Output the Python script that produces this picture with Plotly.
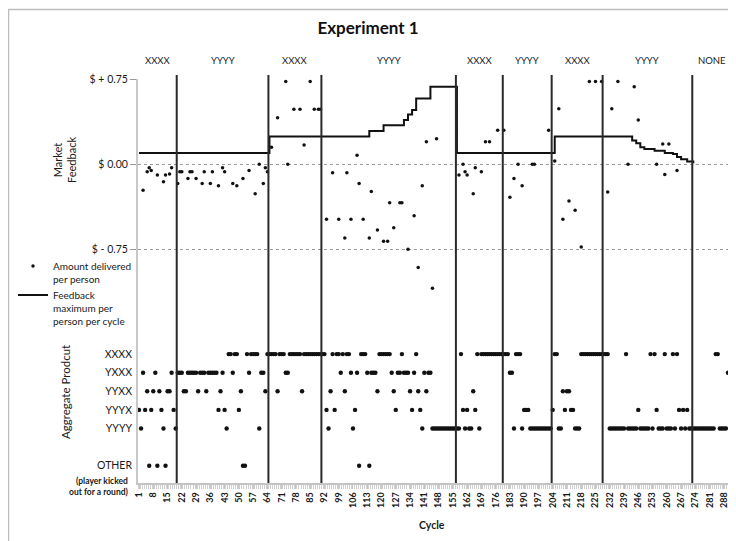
import plotly.graph_objects as go

# ---------------- data ----------------
phase_names = ["XXXX", "YYYY", "XXXX", "YYYY", "XXXX", "YYYY", "XXXX", "YYYY", "NONE"]
phase_starts = [1, 20, 65, 91, 157, 180, 204, 229, 273]
last_cycle = 291

x_tick_labels = [1, 8, 15, 22, 29, 36, 43, 50, 57, 64, 71, 78, 85, 92, 99, 106, 113, 120,
                 127, 134, 141, 148, 155, 162, 169, 176, 183, 190, 197, 204, 211, 218, 225,
                 232, 239, 246, 253, 260, 267, 274, 281, 288]

feedback_labels = ["$ + 0.75", "$ 0.00", "$ - 0.75"]
feedback_ticks = [0.75, 0.0, -0.75]

# Feedback maximum per person per cycle (step line: value holds from the cycle given)
feedback_cycles = [1, 65, 114, 121, 131, 133, 135, 137, 144, 157, 205, 243, 245, 247,
                   249, 254, 259, 263, 265, 267, 270, 273]
feedback_values = [0.10, 0.245, 0.295, 0.345, 0.39, 0.44, 0.48, 0.58, 0.685, 0.10, 0.245,
                   0.21, 0.185, 0.15, 0.135, 0.12, 0.10, 0.09, 0.065, 0.045, 0.025, 0.01]

# Amount delivered per person
delivered_cycles = [3, 5, 6, 7, 10, 13, 14, 16, 17, 20, 21, 22, 25, 26, 27, 29, 32, 33, 36, 37,
                    40, 42, 43, 47, 49, 52, 55, 58, 60, 62, 63, 64,
                    66, 69, 73, 74, 77, 80, 82, 85, 87, 89, 90,
                    93, 96, 99, 102, 103, 105, 108, 109, 111, 114, 115, 118, 121, 123, 124,
                    126, 129, 130, 133, 136, 138, 140, 142, 145, 147,
                    158, 160, 161, 162, 165, 166, 169, 171, 173, 177,
                    180, 183, 185, 187, 189, 194, 195, 202,
                    205, 207, 209, 212, 215, 218, 222, 225, 228,
                    231, 233, 236, 241, 244, 246, 255, 258, 259, 261, 265]
delivered_values = [-0.23, -0.065, -0.03, -0.055, -0.095, -0.155, -0.095, -0.085, -0.03, -0.17,
                    -0.065, -0.065, -0.125, -0.065, -0.065, -0.125, -0.17, -0.065, -0.17, -0.065,
                    -0.19, -0.03, -0.065, -0.17, -0.19, -0.125, -0.055, -0.26, 0.0, -0.17, -0.03,
                    -0.065,
                    0.15, 0.41, 0.73, 0.0, 0.485, 0.485, 0.17, 0.73, 0.485, 0.485, 0.485,
                    -0.485, -0.075, -0.485, -0.65, -0.075, -0.485, 0.08, -0.17, -0.485, -0.65,
                    -0.24, -0.58, -0.68, -0.68, -0.34,
                    -0.56, -0.34, -0.34, -0.75, -0.455, -0.91, -0.19, 0.2, -1.095, 0.225,
                    -0.095, 0.0, -0.065, -0.095, -0.26, -0.03, -0.065, 0.2, 0.2, 0.3,
                    0.3, -0.29, -0.125, 0.0, -0.19, 0.0, 0.0, 0.3,
                    0.03, 0.49, -0.485, -0.325, -0.405, -0.73, 0.73, 0.73, 0.73,
                    -0.245, 0.49, 0.73, 0.0, 0.685, 0.39, 0.0, 0.18, -0.09, 0.18, -0.055]

# Aggregate product per cycle, as runs: (first cycle, last cycle, product)
product_levels = ["XXXX", "YXXX", "YYXX", "YYYX", "YYYY", "OTHER"]
product_runs = [
    (1, 1, "YYYX"), (2, 2, "YYYY"), (3, 3, "YXXX"), (4, 4, "YYYX"), (5, 5, "YYXX"),
    (6, 6, "OTHER"), (7, 7, "YYYX"), (8, 8, "YYXX"), (9, 9, "YXXX"), (10, 10, "OTHER"),
    (11, 11, "YYXX"), (12, 12, "YYYX"), (13, 13, "YYYY"), (14, 14, "OTHER"), (15, 16, "YYXX"),
    (17, 17, "YXXX"), (18, 18, "YYYX"), (19, 19, "YYYY"), (20, 22, "YXXX"), (23, 24, "YYXX"),
    (25, 29, "YXXX"), (30, 30, "YYXX"), (31, 33, "YXXX"), (34, 34, "YYXX"), (35, 39, "YXXX"),
    (40, 40, "YYYX"), (41, 41, "YYXX"), (42, 42, "YXXX"), (43, 43, "YYYX"), (44, 44, "YYYY"),
    (45, 46, "XXXX"), (47, 47, "YXXX"), (48, 49, "XXXX"), (50, 50, "YYYX"), (51, 51, "YYXX"),
    (52, 53, "OTHER"), (54, 54, "XXXX"), (55, 55, "YXXX"), (56, 59, "XXXX"), (60, 60, "YYYY"),
    (61, 62, "YXXX"), (63, 63, "YYXX"), (64, 68, "XXXX"), (69, 69, "YYXX"), (70, 72, "XXXX"),
    (73, 74, "YXXX"), (75, 80, "XXXX"), (81, 81, "YYXX"), (82, 92, "XXXX"), (93, 93, "YYYX"),
    (94, 94, "YYYY"), (95, 95, "YYXX"), (96, 96, "XXXX"), (97, 97, "YYYX"), (98, 99, "XXXX"),
    (100, 100, "YXXX"), (101, 101, "XXXX"), (102, 102, "YYXX"), (103, 104, "XXXX"),
    (105, 105, "YXXX"), (106, 106, "YYYY"), (107, 107, "YYYX"), (108, 108, "YXXX"),
    (109, 109, "OTHER"), (110, 112, "XXXX"), (113, 113, "YXXX"), (114, 114, "OTHER"),
    (115, 117, "YXXX"), (118, 118, "YYXX"), (119, 124, "XXXX"), (125, 125, "YXXX"),
    (126, 126, "YYXX"), (127, 127, "YYYX"), (128, 129, "YXXX"), (130, 130, "XXXX"),
    (131, 133, "YXXX"), (134, 134, "YYXX"), (135, 135, "YYYX"), (136, 136, "YXXX"),
    (137, 137, "XXXX"), (138, 138, "YYXX"), (139, 139, "YYYX"), (140, 140, "YYYY"),
    (141, 141, "YXXX"), (142, 142, "YYXX"), (143, 144, "YXXX"), (145, 158, "YYYY"),
    (159, 159, "XXXX"), (160, 160, "YYYX"), (161, 161, "YYYY"), (162, 162, "YYYX"),
    (163, 164, "YYYY"), (165, 165, "YYXX"), (166, 166, "YYYX"), (167, 167, "XXXX"),
    (168, 168, "YYYY"), (169, 182, "XXXX"), (183, 184, "YXXX"), (185, 185, "YYYY"),
    (186, 188, "XXXX"), (189, 189, "YYYY"), (190, 192, "YYYX"), (193, 203, "YYYY"),
    (204, 204, "YYYX"), (205, 206, "XXXX"), (207, 208, "YYYY"), (209, 209, "YYXX"),
    (210, 210, "YYYX"), (211, 212, "YYXX"), (213, 214, "YYYX"), (215, 217, "YYYY"),
    (218, 231, "XXXX"), (232, 239, "YYYY"), (240, 240, "XXXX"), (241, 245, "YYYY"),
    (246, 246, "YYYX"), (247, 251, "YYYY"), (252, 252, "XXXX"), (253, 253, "YYYY"),
    (254, 254, "XXXX"), (255, 255, "YYYX"), (256, 258, "YYYY"), (259, 259, "XXXX"),
    (260, 262, "YYYY"), (263, 263, "XXXX"), (264, 264, "YYYY"), (265, 265, "XXXX"),
    (266, 266, "YYYX"), (267, 267, "YYYY"), (268, 268, "YYYX"), (269, 269, "YYYY"),
    (270, 270, "YYYX"), (271, 283, "YYYY"), (284, 285, "XXXX"), (286, 289, "YYYY"),
    (290, 290, "YXXX"), (291, 291, "YYYY"),
]

# ---------------- layout helpers ----------------
# Pixel constants below are measured on the 736x541 reference; the page body
# adds an 8px offset, so the figure itself is 8px smaller in each direction.
OFF = 8
W, H = 736 - OFF, 541 - OFF
PLOT_L, PLOT_R, PLOT_T, PLOT_B = 138, 731, 79, 483
PW, PH = PLOT_R - PLOT_L, PLOT_B - PLOT_T


def px_x(px):
    return (px - PLOT_L) / PW


def px_y(py):
    return (PLOT_B - py) / PH


row_pos = {"XXXX": 4, "YXXX": 3, "YYXX": 2, "YYYX": 1, "YYYY": 0, "OTHER": -2}

prod_x, prod_y = [], []
for first, last, prod in product_runs:
    for c in range(first, last + 1):
        prod_x.append(c)
        prod_y.append(row_pos[prod])

FONT = "Lato"
DARK = "#1a1a1a"

fig = go.Figure()

fig.add_trace(go.Scatter(
    x=delivered_cycles, y=delivered_values, mode="markers",
    marker=dict(size=3.5, color="#111111"),
    name="Amount delivered<br>per person", yaxis="y",
))
fig.add_trace(go.Scatter(
    x=feedback_cycles, y=feedback_values, mode="lines",
    line=dict(color="#111111", width=2, shape="hv"),
    name="Feedback<br>maximum per<br>person per cycle", yaxis="y",
))
fig.add_trace(go.Scatter(
    x=prod_x, y=prod_y, mode="markers",
    marker=dict(size=4.4, color="#111111"),
    showlegend=False, yaxis="y2",
))

# phase boundary lines
shapes = []
for s in phase_starts[1:]:
    shapes.append(dict(type="line", xref="x", yref="paper", x0=s - 0.5, x1=s - 0.5,
                       y0=0, y1=px_y(75), line=dict(color="#2a2a2a", width=2)))
# outer chart border
shapes.append(dict(type="rect", xref="paper", yref="paper", x0=px_x(8.5), x1=px_x(760),
                   y0=px_y(570), y1=px_y(9.5), line=dict(color="#bdbdbd", width=1.5),
                   fillcolor="rgba(0,0,0,0)", layer="below"))

annotations = []
# phase labels
bounds = phase_starts + [last_cycle + 1]
for i, name in enumerate(phase_names):
    xc = (bounds[i] + bounds[i + 1] - 1) / 2
    annotations.append(dict(x=xc, xref="x", y=px_y(61), yref="paper", text=name,
                            xanchor="center", yanchor="middle",
                            showarrow=False, font=dict(family=FONT, size=9.5, color=DARK)))
annotations += [
    dict(x=px_x(64), y=px_y(160), xref="paper", yref="paper", text="Market<br>Feedback",
         xanchor="center", yanchor="middle",
         textangle=-90, showarrow=False, font=dict(family=FONT, size=11, color=DARK)),
    dict(x=px_x(65), y=px_y(392), xref="paper", yref="paper", text="Aggregate Prodcut",
         xanchor="center", yanchor="middle",
         textangle=-90, showarrow=False, font=dict(family=FONT, size=11.5, color=DARK)),
    dict(x=px_x(131), y=px_y(486), xref="paper", yref="paper", xanchor="right",
         yanchor="middle",
         text="<b>(player kicked<br>out for a round)</b>", align="right",
         showarrow=False, font=dict(family=FONT, size=8.5, color=DARK)),
    dict(x=px_x(432), y=px_y(525), xref="paper", yref="paper", text="<b>Cycle</b>",
         xanchor="center", yanchor="middle",
         showarrow=False, font=dict(family=FONT, size=10.5, color=DARK)),
]

# axis ranges from the pixel geometry of the reference
y1_zero_px, y1_unit = 164.3, 113.3
y1_range = [(y1_zero_px - PLOT_B) / y1_unit, (y1_zero_px - PLOT_T) / y1_unit]
y2_base_px, y2_unit = 428.5, 18.6
y2_range = [(y2_base_px - PLOT_B) / y2_unit, (y2_base_px - PLOT_T) / y2_unit]

fig.update_layout(
    width=W, height=H,
    margin=dict(l=PLOT_L - OFF, r=W - (PLOT_R - OFF), t=PLOT_T - OFF, b=H - (PLOT_B - OFF),
                autoexpand=False),
    paper_bgcolor="white", plot_bgcolor="white",
    font=dict(family=FONT, color=DARK),
    title=dict(text="<b>Experiment 1</b>", x=(368 - OFF) / W, xref="container",
               xanchor="center", y=1 - (28 - OFF) / H, yref="container", yanchor="middle",
               font=dict(family=FONT, size=17, color="#111111")),
    showlegend=True,
    legend=dict(x=px_x(13), y=px_y(253), xref="paper", yref="paper", xanchor="left",
                yanchor="top", valign="top", bgcolor="rgba(0,0,0,0)",
                font=dict(family=FONT, size=10, color=DARK), tracegroupgap=4, itemwidth=30),
    xaxis=dict(range=[0.5, last_cycle + 0.5], tickmode="array", tickvals=x_tick_labels,
               ticktext=[str(v) for v in x_tick_labels], tickangle=-90,
               tickfont=dict(family=FONT, size=9, color=DARK, weight="bold"),
               showgrid=False, zeroline=False, showline=True, linecolor="#c4c4c4",
               linewidth=1.5, ticks="outside", ticklen=4, tickcolor="#c4c4c4",
               automargin=False,
               minor=dict(dtick=1, tick0=0.5, ticks="outside", ticklen=4, tickcolor="#d0d0d0")),
    yaxis=dict(range=y1_range, tickmode="array", tickvals=feedback_ticks,
               ticktext=feedback_labels, tickfont=dict(family=FONT, size=10.5, color=DARK),
               showgrid=True, gridcolor="#9a9a9a", griddash="dot", gridwidth=1,
               zeroline=False, showline=True, linecolor="#c8c8c8", linewidth=2, mirror=True,
               ticks="outside", ticklen=6, tickcolor="#9a9a9a", automargin=False),
    yaxis2=dict(range=y2_range, overlaying="y", side="left", tickmode="array",
                tickvals=[row_pos[p] for p in product_levels], ticktext=product_levels,
                tickfont=dict(family=FONT, size=10.5, color=DARK), automargin=False,
                ticklabelstandoff=5,
                showgrid=False, zeroline=False, showline=False, ticks="", ticklen=0),
    shapes=shapes, annotations=annotations,
)

fig.write_html("out.html")
